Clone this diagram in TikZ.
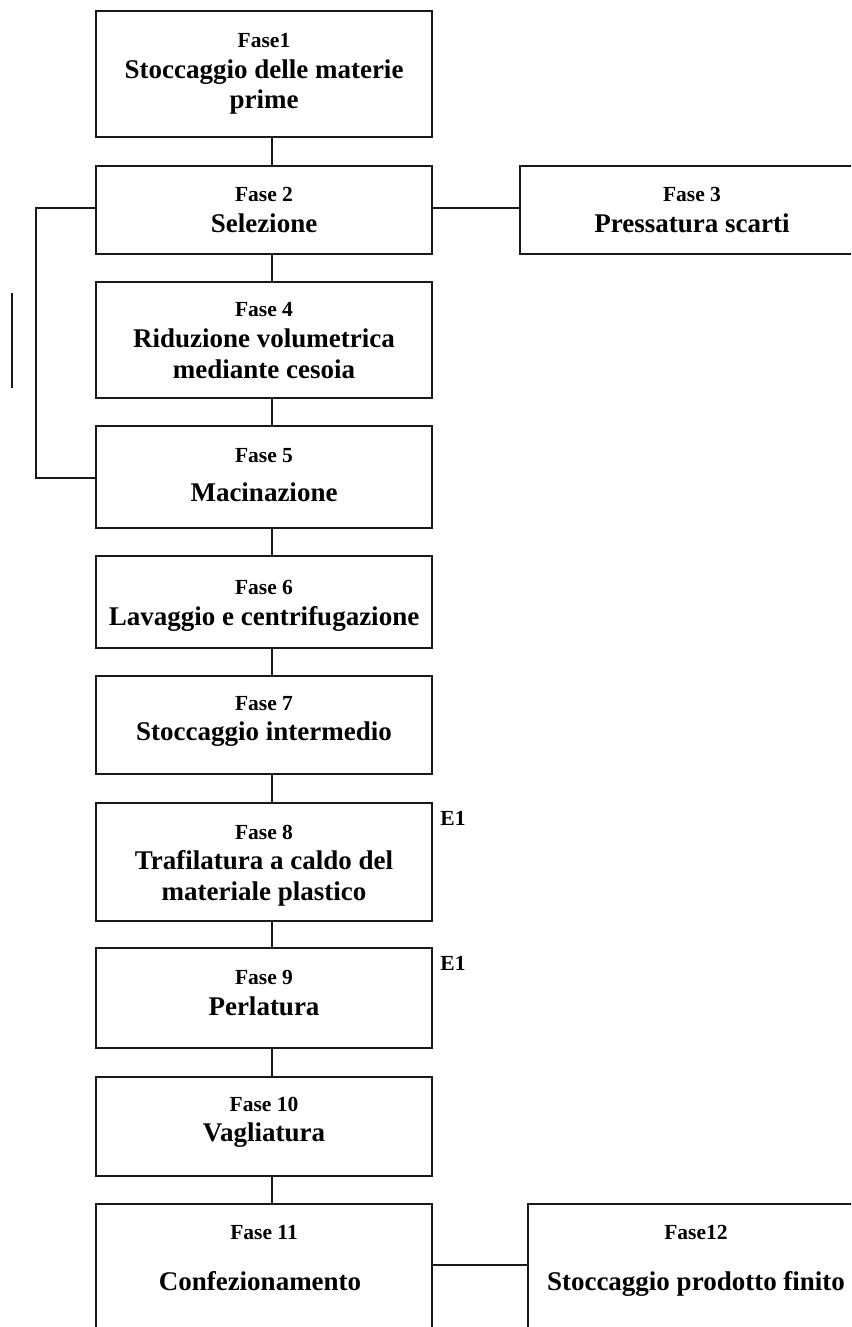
\documentclass[tikz,border=0pt]{standalone}
\usepackage{fontspec}
\setmainfont{Liberation Serif}
\begin{document}
\begin{tikzpicture}[x=1pt,y=-1pt,
  box/.style={draw=black!90, line width=1.8pt, rectangle, inner sep=0pt, outer sep=0pt, minimum width=336pt},
  conn/.style={draw=black!90, line width=1.8pt},
  fasel/.style={font=\fontsize{21.5}{26}\selectfont\bfseries, text height=14.3pt, text depth=0pt, inner sep=0pt, anchor=center},
  mainl/.style={font=\fontsize{27}{30}\selectfont\bfseries, text height=17.9pt, text depth=0pt, inner sep=0pt, anchor=center}]
\useasboundingbox (0,0) rectangle (851,1327);
\clip (0,0) rectangle (851,1327);
% boxes
\node[box, minimum height=126pt] (b1) at (264,74) {};
\node[box, minimum height=88pt] (b2) at (264,210) {};
\node[box, minimum height=88pt, minimum width=380pt] (b3) at (710,210) {};
\node[box, minimum height=116pt] (b4) at (264,340) {};
\node[box, minimum height=102pt] (b5) at (264,477) {};
\node[box, minimum height=92pt] (b6) at (264,602) {};
\node[box, minimum height=98pt] (b7) at (264,725) {};
\node[box, minimum height=118pt] (b8) at (264,862) {};
\node[box, minimum height=100pt] (b9) at (264,998) {};
\node[box, minimum height=99pt] (b10) at (264,1126.5) {};
\node[box, minimum height=156pt] (b11) at (264,1282) {};
\node[box, minimum height=156pt, minimum width=372pt] (b12) at (714,1282) {};
% helper coordinates
\coordinate (cx) at (272,0);
\coordinate (y23) at (0,208);
\coordinate (bx) at (36,0);
\coordinate (yb2) at (0,478);
\coordinate (y1112) at (0,1265);
\coordinate (s1) at (12,293);
\coordinate (s2) at (12,388);
% connectors
\draw[conn] (b1.south -| cx) -- (b2.north -| cx);
\draw[conn] (b2.south -| cx) -- (b4.north -| cx);
\draw[conn] (b4.south -| cx) -- (b5.north -| cx);
\draw[conn] (b5.south -| cx) -- (b6.north -| cx);
\draw[conn] (b6.south -| cx) -- (b7.north -| cx);
\draw[conn] (b7.south -| cx) -- (b8.north -| cx);
\draw[conn] (b8.south -| cx) -- (b9.north -| cx);
\draw[conn] (b9.south -| cx) -- (b10.north -| cx);
\draw[conn] (b10.south -| cx) -- (b11.north -| cx);
\draw[conn] (b2.east |- y23) -- (b3.west |- y23);
\draw[conn] (b2.west |- y23) -| (bx |- yb2) -- (b5.west |- yb2);
\draw[conn] (b11.east |- y1112) -- (b12.west |- y1112);
\draw[conn] (s1) -- (s2);
% texts
\node[fasel] (t1a) at (264,40) {Fase1};
\node[mainl] (t1b) at (264,70) {Stoccaggio delle materie};
\node[mainl] (t1c) at (264,100) {prime};
\node[fasel] (t2a) at (264,194) {Fase 2};
\node[mainl] (t2b) at (264,224) {Selezione};
\node[fasel] (t3a) at (692,194) {Fase 3};
\node[mainl] (t3b) at (692,224) {Pressatura scarti};
\node[fasel] (t4a) at (264,309) {Fase 4};
\node[mainl] (t4b) at (264,339) {Riduzione volumetrica};
\node[mainl] (t4c) at (264,370) {mediante cesoia};
\node[fasel] (t5a) at (264,455) {Fase 5};
\node[mainl] (t5b) at (264,493) {Macinazione};
\node[fasel] (t6a) at (264,587) {Fase 6};
\node[mainl] (t6b) at (264,617) {Lavaggio e centrifugazione};
\node[fasel] (t7a) at (264,703) {Fase 7};
\node[mainl] (t7b) at (264,732) {Stoccaggio intermedio};
\node[fasel] (t8a) at (264,832) {Fase 8};
\node[mainl] (t8b) at (264,861) {Trafilatura a caldo del};
\node[mainl] (t8c) at (264,892) {materiale plastico};
\node[fasel] (t9a) at (264,977) {Fase 9};
\node[mainl] (t9b) at (264,1007) {Perlatura};
\node[fasel] (t10a) at (264,1104) {Fase 10};
\node[mainl] (t10b) at (264,1133) {Vagliatura};
\node[fasel] (t11a) at (264,1232) {Fase 11};
\node[mainl] (t11b) at (260,1282) {Confezionamento};
\node[fasel] (t12a) at (696,1232) {Fase12};
\node[mainl] (t12b) at (696,1282) {Stoccaggio prodotto finito};
\node[fasel] (e1) at (453,818) {E1};
\node[fasel] (e2) at (453,963) {E1};
\end{tikzpicture}
\end{document}
